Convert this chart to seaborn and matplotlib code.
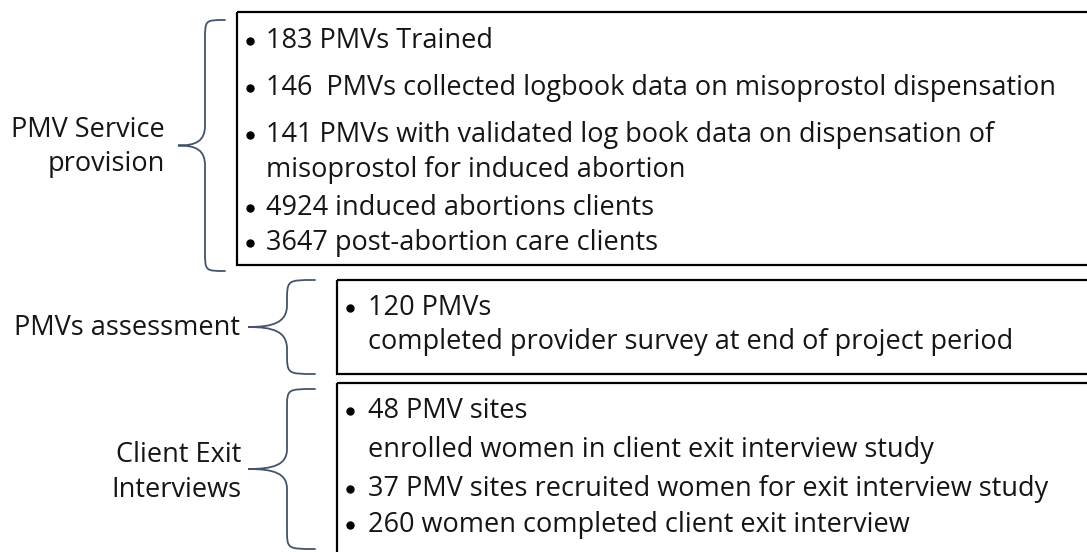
import matplotlib.pyplot as plt
import seaborn as sns
from matplotlib.path import Path
from matplotlib.patches import PathPatch, Rectangle

sns.set_style("white")
plt.rcParams['font.family'] = ['Open Sans', 'DejaVu Sans']

# group labels on the left
groups = ["PMV Service\nprovision", "PMVs assessment", "Client Exit\nInterviews"]

# box contents: (is_bullet, text)
items_service = [
    (True, "183 PMVs Trained"),
    (True, "146  PMVs collected logbook data on misoprostol dispensation"),
    (True, "141 PMVs with validated log book data on dispensation of"),
    (False, "misoprostol for induced abortion"),
    (True, "4924 induced abortions clients"),
    (True, "3647 post-abortion care clients"),
]
items_assess = [
    (True, "120 PMVs"),
    (False, "completed provider survey at end of project period"),
]
items_exit = [
    (True, "48 PMV sites"),
    (False, "enrolled women in client exit interview study"),
    (True, "37 PMV sites recruited women for exit interview study"),
    (True, "260 women completed client exit interview"),
]

# layout in pixels
W, H = 1087, 552
FS = 19.5
BRACE_COL = "#44546A"
TXT_COL = "#151515"

fig = plt.figure(figsize=(W / 100, H / 100), dpi=100)
ax = fig.add_axes([0, 0, 1, 1])
ax.set_xlim(0, W)
ax.set_ylim(H, 0)
ax.axis("off")


def brace(x_end, x_v, x_tip, y_top, y_bot, r=20):
    ym = (y_top + y_bot) / 2
    verts = [
        (x_end, y_top),
        (x_v, y_top), (x_v, y_top), (x_v, y_top + r),
        (x_v, ym - r),
        (x_v, ym - r * 0.2), (x_v - (x_v - x_tip) * 0.35, ym), (x_tip, ym),
        (x_v - (x_v - x_tip) * 0.35, ym), (x_v, ym + r * 0.2), (x_v, ym + r),
        (x_v, y_bot - r),
        (x_v, y_bot), (x_v, y_bot), (x_end, y_bot),
    ]
    codes = [Path.MOVETO, Path.CURVE4, Path.CURVE4, Path.CURVE4, Path.LINETO,
             Path.CURVE4, Path.CURVE4, Path.CURVE4,
             Path.CURVE4, Path.CURVE4, Path.CURVE4, Path.LINETO,
             Path.CURVE4, Path.CURVE4, Path.CURVE4]
    ax.add_patch(PathPatch(Path(verts, codes), fill=False, edgecolor=BRACE_COL,
                           lw=1.3, capstyle="round"))


def box(x0, y0, y1, items, baselines, xb, xt):
    ax.add_patch(Rectangle((x0, y0), W + 20 - x0, y1 - y0, fill=False,
                           edgecolor="black", lw=1.6))
    for (bul, txt), yb in zip(items, baselines):
        if bul:
            ax.plot(xb, yb - 7, "o", ms=5, color="black")
        ax.text(xt, yb, txt, fontsize=FS, ha="left", va="baseline", color=TXT_COL)


# boxes
box(237, 12, 265, items_service, [48, 95, 142, 177, 215, 250], 250, 266)
box(337, 280, 374, items_assess, [315, 349], 350, 368)
box(337, 383, 580, items_exit, [418, 457, 496, 532], 350, 368)

# braces
brace(225, 205, 178, 20, 271)
brace(315, 287, 248, 280, 374, r=22)
brace(315, 287, 248, 389, 549)

# left labels
ax.text(165, 137, groups[0].split("\n")[0], fontsize=FS, ha="right", va="baseline", color=TXT_COL)
ax.text(165, 171, groups[0].split("\n")[1], fontsize=FS, ha="right", va="baseline", color=TXT_COL)
ax.text(240, 335, groups[1], fontsize=FS, ha="right", va="baseline", color=TXT_COL)
ax.text(241, 462, groups[2].split("\n")[0], fontsize=FS, ha="right", va="baseline", color=TXT_COL)
ax.text(241, 497, groups[2].split("\n")[1], fontsize=FS, ha="right", va="baseline", color=TXT_COL)

fig.savefig("out.png", dpi=100)
